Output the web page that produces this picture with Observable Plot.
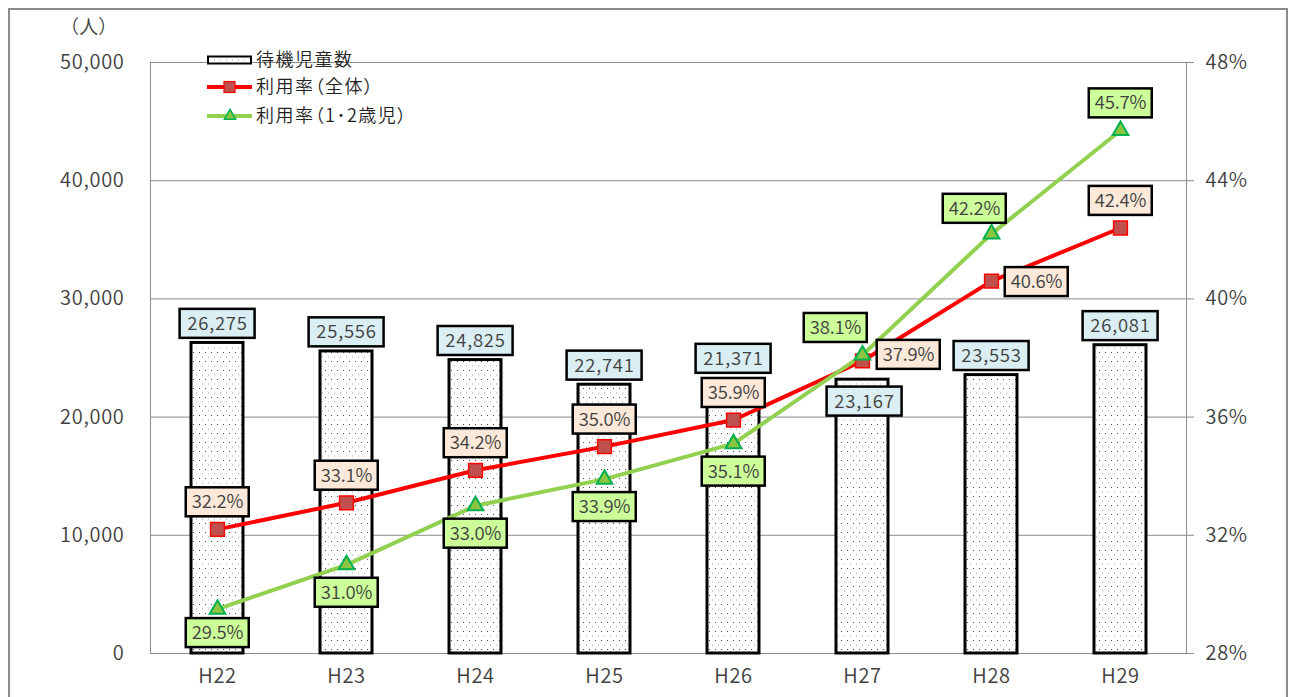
<!DOCTYPE html>
<html><head><meta charset="utf-8">
<script src="https://cdn.jsdelivr.net/npm/d3@7"></script>
<script src="https://cdn.jsdelivr.net/npm/@observablehq/plot@0.6"></script>
<style>
html,body{margin:0;padding:0;background:#fff;}
#wrap{position:relative;width:1289px;height:697px;overflow:hidden;}
#frame{position:absolute;left:8px;top:8px;width:1280px;height:740px;border:2px solid #8c8c8c;box-sizing:border-box;}
#chart{position:absolute;left:0;top:0;}
#chart svg text{letter-spacing:0.7px;font-feature-settings:"palt";font-weight:350;}
#chart svg g.legend text{letter-spacing:1.5px;}
#chart svg g.lblbar text{letter-spacing:0.8px;}
#chart svg g.lblall text, #chart svg g.lblyoung text{letter-spacing:-0.2px;}
</style></head><body>
<div id="wrap"><div id="frame"></div><div id="chart"></div></div>
<script>
// ---- data ----
const years = ["H22","H23","H24","H25","H26","H27","H28","H29"];
const waiting = [26275, 25556, 24825, 22741, 21371, 23167, 23553, 26081];
const rateAll = [32.2, 33.1, 34.2, 35.0, 35.9, 37.9, 40.6, 42.4];
const rate12 = [29.5, 31.0, 33.0, 33.9, 35.1, 38.1, 42.2, 45.7];
const leftTicks = [0, 10000, 20000, 30000, 40000, 50000];
const rightTicks = [28, 32, 36, 40, 44, 48];
const seriesNames = ["待機児童数", "利用率（全体）", "利用率（1･2歳児）"];
const unitLabel = "（人）";

const FONT = '"Noto Sans CJK JP","Noto Sans",sans-serif';
const TEXT = "#404040";
const GRID = "#8c8c8c";
const pMin = rightTicks[0], pMax = rightTicks[rightTicks.length-1];
const yMax = leftTicks[leftTicks.length-1];
const toY = p => (p - pMin) / (pMax - pMin) * yMax;

const rows = years.map((year, i) => ({year, waiting: waiting[i], all: rateAll[i], young: rate12[i]}));

// label placement (pixel offsets relative to the data point)
const barOff = {H26: [0, -42], H27: [2, 22]}, barDef = [0, -19];
const allOff = {H27: [46, -6], H28: [45, 1]}, allDef = [0, -27];
const youngOff = {H22: [0, 24], H27: [-27, -27], H28: [-17, -25], H29: [0, -27]}, youngDef = [0, 28];

function labels(yFn, textFn, offs, def, cls) {
  return rows.map(r => {
    const [dx, dy] = offs[r.year] || def;
    return Plot.text([r], {x: "year", y: yFn, text: textFn, dx, dy, className: cls,
      fontSize: 18.5, fill: TEXT, fontFamily: FONT});
  });
}
const fmtN = d3.format(",");

const svg = Plot.plot({
  width: 1289, height: 697,
  marginLeft: 150, marginRight: 103, marginTop: 62, marginBottom: 44,
  style: {fontFamily: FONT, fontSize: "20px", color: TEXT, background: "transparent"},
  x: {domain: years, paddingInner: 0.6, paddingOuter: 0.3},
  y: {domain: [0, yMax]},
  marks: [
    Plot.gridY(leftTicks, {stroke: GRID, strokeOpacity: 1, strokeWidth: 1}),
    Plot.frame({anchor: "left", stroke: GRID}),
    Plot.frame({anchor: "right", stroke: GRID}),
    Plot.axisY({anchor: "left", ticks: leftTicks, tickSize: 0, tickPadding: 26, tickFormat: fmtN,
      label: null, fontSize: 20, fill: TEXT}),
    Plot.axisY({anchor: "right", ticks: rightTicks.map(toY), tickSize: 7, tickPadding: 12,
      tickFormat: d => Math.round(pMin + d / yMax * (pMax - pMin)) + "%", label: null,
      fontSize: 20, stroke: GRID, fill: TEXT}),
    Plot.axisX({tickSize: 0, tickPadding: 15, label: null, fontSize: 20, fill: TEXT}),
    Plot.barY(rows, {x: "year", y: "waiting", fill: "url(#dots)", stroke: "#000", strokeWidth: 3}),
    Plot.line(rows, {x: "year", y: d => toY(d.all), stroke: "#ff0000", strokeWidth: 4}),
    Plot.line(rows, {x: "year", y: d => toY(d.young), stroke: "#92d050", strokeWidth: 4}),
    Plot.dot(rows, {x: "year", y: d => toY(d.all), symbol: "square", r: 7.8, fill: "#c0504d", stroke: "#ff0000", strokeWidth: 1.5}),
    Plot.dot(rows, {x: "year", y: d => toY(d.young), symbol: "triangle", r: 5.8, fill: "#8cc641", stroke: "#00b050", strokeWidth: 2}),
    ...labels("waiting", d => fmtN(d.waiting), barOff, barDef, "lblbar"),
    ...labels(d => toY(d.all), d => d.all.toFixed(1) + "%", allOff, allDef, "lblall"),
    ...labels(d => toY(d.young), d => d.young.toFixed(1) + "%", youngOff, youngDef, "lblyoung")
  ]
});
document.getElementById("chart").append(svg);

const NS = "http://www.w3.org/2000/svg";
// dotted pattern
const defs = d3.create("svg:defs");
const pat = defs.append("pattern").attr("id", "dots").attr("patternUnits", "userSpaceOnUse")
  .attr("width", 6).attr("height", 9);
pat.append("rect").attr("width", 6).attr("height", 9).attr("fill", "#fff");
pat.append("rect").attr("x", 1).attr("y", 1).attr("width", 1).attr("height", 1).attr("fill", "#000").attr("fill-opacity", 0.7);
pat.append("rect").attr("x", 4).attr("y", 5.5).attr("width", 1).attr("height", 1).attr("fill", "#000").attr("fill-opacity", 0.35);
svg.insertBefore(defs.node(), svg.firstChild);

// boxes behind labels
function boxify(cls, fill, W, H) {
  svg.querySelectorAll(`.${cls} text`).forEach(t => {
    const b = t.getBBox();
    const cx = b.x + b.width / 2 - 0.4;
    const cy = b.y + b.height / 2 + 1.5;
    const r = document.createElementNS(NS, "rect");
    r.setAttribute("x", cx - W / 2); r.setAttribute("y", cy - H / 2);
    r.setAttribute("width", W); r.setAttribute("height", H);
    r.setAttribute("fill", fill); r.setAttribute("stroke", "#000"); r.setAttribute("stroke-width", 2.5);
    const tr = t.getAttribute("transform");
    if (tr) r.setAttribute("transform", tr);
    t.parentNode.insertBefore(r, t);
  });
}
boxify("lblbar", "#daeef3", 75, 29);
boxify("lblall", "#fde9d9", 63, 29);
boxify("lblyoung", "#ccff99", 63, 29);

// unit label and legend
const s = d3.select(svg);
s.append("text").attr("x", 89).attr("y", 27).attr("dy", "0.35em").attr("text-anchor", "middle")
  .attr("fill", TEXT).attr("font-size", 19).attr("font-family", FONT).text(unitLabel);
const lg = s.append("g").attr("class", "legend").attr("font-family", FONT).attr("font-size", 18).attr("fill", "#222")
  .attr("text-anchor", "start");
const lx = 207, ly = [60, 87, 116];
lg.append("rect").attr("x", lx + 1).attr("y", ly[0] - 3.5).attr("width", 43).attr("height", 7)
  .attr("fill", "url(#dots)").attr("stroke", "#000").attr("stroke-width", 2);
lg.append("line").attr("x1", lx).attr("x2", lx + 45).attr("y1", ly[1]).attr("y2", ly[1]).attr("stroke", "#ff0000").attr("stroke-width", 4);
lg.append("rect").attr("x", lx + 17).attr("y", ly[1] - 5.5).attr("width", 11).attr("height", 11)
  .attr("fill", "#c0504d").attr("stroke", "#ff0000").attr("stroke-width", 1.2);
lg.append("line").attr("x1", lx).attr("x2", lx + 45).attr("y1", ly[2]).attr("y2", ly[2]).attr("stroke", "#92d050").attr("stroke-width", 4);
lg.append("path").attr("d", d3.symbol(d3.symbolTriangle, 55)()).attr("transform", `translate(${lx + 23},${ly[2]})`)
  .attr("fill", "#8cc641").attr("stroke", "#00b050").attr("stroke-width", 1.5);
seriesNames.forEach((n, i) => {
  lg.append("text").attr("x", lx + 49).attr("y", ly[i]).attr("dy", "0.35em").attr("text-anchor", "start").text(n);
});
</script>
</body></html>
